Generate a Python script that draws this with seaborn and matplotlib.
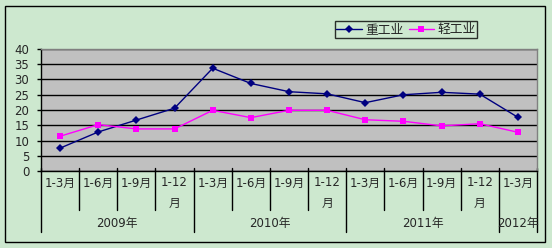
import matplotlib
matplotlib.use("Agg")
import matplotlib.pyplot as plt
import seaborn as sns
import pandas as pd
from matplotlib.patches import Rectangle
from matplotlib.lines import Line2D
import matplotlib.transforms as mtransforms

# ---- data ----
periods = ["1-3月", "1-6月", "1-9月", "1-12\n月",
           "1-3月", "1-6月", "1-9月", "1-12\n月",
           "1-3月", "1-6月", "1-9月", "1-12\n月",
           "1-3月"]
years = ["2009年", "2010年", "2011年", "2012年"]
year_spans = [4, 4, 4, 1]
heavy = [7.5, 12.8, 16.7, 20.6, 33.7, 28.7, 26.0, 25.3, 22.4, 25.0, 25.8, 25.2, 17.6]
light = [11.4, 15.2, 13.8, 13.8, 19.9, 17.5, 19.9, 19.9, 16.8, 16.3, 14.8, 15.5, 12.7]
series_names = ["重工业", "轻工业"]
y_ticks = [0, 5, 10, 15, 20, 25, 30, 35, 40]

sns.set_style("white")
plt.rcParams['font.family'] = ['DejaVu Sans', 'Noto Sans CJK SC']

W, H = 552, 248
BG = "#CDE8CF"
fig = plt.figure(figsize=(W / 100, H / 100), dpi=100, facecolor=BG)

L, R, T, B = 41, 537, 49, 171
ax = fig.add_axes([L / W, (H - B) / H, (R - L) / W, (B - T) / H])
ax.set_facecolor("#C0C0C0")

n = len(periods)
df = pd.DataFrame({
    "idx": list(range(n)) * 2,
    "value": heavy + light,
    "series": [series_names[0]] * n + [series_names[1]] * n,
})
palette = {series_names[0]: "#000080", series_names[1]: "#FF00FF"}
markers = {series_names[0]: "D", series_names[1]: "s"}
sns.lineplot(data=df, x="idx", y="value", hue="series", style="series",
             palette=palette, markers=markers, dashes=False, ax=ax,
             legend=False, linewidth=1.0, markeredgewidth=0)
for line, nm in zip(ax.lines, series_names):
    line.set_markersize(4.2 if nm == series_names[0] else 5.0)

ax.set_xlim(-0.5, n - 0.5)
ax.set_ylim(0, 40)
ax.set_yticks(y_ticks)
ax.set_yticklabels([str(v) for v in y_ticks], fontsize=8.5)
ax.tick_params(axis="y", direction="out", length=3, width=1, color="black", pad=5.5, left=True)
ax.set_xticks([])
ax.set_xlabel("")
ax.set_ylabel("")
ax.set_axisbelow(True)
ax.yaxis.grid(True, color="black", linewidth=1)
ax.xaxis.grid(False)
for s in ["top", "right"]:
    ax.spines[s].set_color("#808080")
    ax.spines[s].set_linewidth(1)
for s in ["left", "bottom"]:
    ax.spines[s].set_color("black")
    ax.spines[s].set_linewidth(1)

# ---- two-level category axis ----
trans = mtransforms.blended_transform_factory(ax.transData, ax.transAxes)
def yfrac(py):
    return (B - py) / (B - T)

for i, lab in enumerate(periods):
    for j, part in enumerate(lab.split("\n")):
        ax.text(i, yfrac(183 + 20 * j), part, transform=trans, ha="center",
                va="center", fontsize=8.5, clip_on=False)

year_bounds = [-0.5]
acc = -0.5
for sp in year_spans:
    acc += sp
    year_bounds.append(acc)

for k in range(n + 1):
    xb = k - 0.5
    y_end = 232 if xb in year_bounds else 210
    ax.add_line(Line2D([xb, xb], [yfrac(168), yfrac(y_end)], transform=trans,
                       color="black", lw=1, clip_on=False))

for k, yl in enumerate(years):
    xc = (year_bounds[k] + year_bounds[k + 1]) / 2
    ax.text(xc, yfrac(223), yl, transform=trans, ha="center", va="center",
            fontsize=8.5, clip_on=False)

# ---- legend ----
handles = [Line2D([], [], color=palette[nm], marker=markers[nm], lw=1,
                  markersize=4.2 if nm == series_names[0] else 5.0, markeredgewidth=0)
           for nm in series_names]
leg = fig.legend(handles, series_names, loc="center",
                 bbox_to_anchor=(406 / W, (H - 29.5) / H), ncol=2,
                 frameon=True, fancybox=False, fontsize=9.2,
                 handlelength=2.0, handletextpad=0.25, columnspacing=0.4,
                 borderpad=0.15, borderaxespad=0)
leg.get_frame().set_edgecolor("black")
leg.get_frame().set_facecolor("none")
leg.get_frame().set_linewidth(1)

# ---- outer border ----
fig.add_artist(Rectangle((5 / W, 6 / H), 540 / W, 236 / H, transform=fig.transFigure,
                         fill=False, edgecolor="black", lw=1))

fig.savefig("out.png", dpi=100, facecolor=BG)
